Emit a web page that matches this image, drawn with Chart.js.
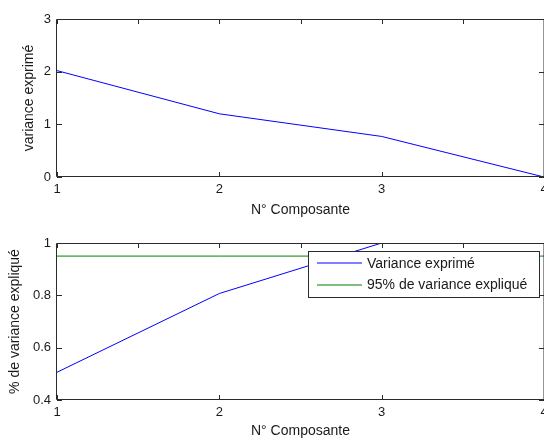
<!DOCTYPE html>
<html>
<head>
<meta charset="utf-8">
<script src="https://cdn.jsdelivr.net/npm/chart.js@4"></script>
<style>
  body { margin: 0; background: #fff; }
  #wrap { position: relative; width: 544px; height: 440px; overflow: hidden; }
  canvas { position: absolute; left: 0; }
</style>
</head>
<body>
<div id="wrap">
  <canvas id="top" width="544" height="220" style="top:0"></canvas>
  <canvas id="bottom" width="544" height="220" style="top:220px"></canvas>
</div>
<script>
// N° composante
const components = [1, 2, 3, 4];
// variance exprimée par composante
const varianceValues = [2.02, 1.20, 0.77, 0.0];
// % de variance expliquée (cumul)
const explainedValues = [0.506, 0.807, 1.0, 1.0];
// seuil 95%
const thresholdValues = [0.95, 0.95, 0.95, 0.95];

const blue = "#0000ff";
const green = "#008000";
const axisColor = "#2b2b2b";
const textColor = "#1a1a1a";
const fontFamily = "'Liberation Sans', Arial, sans-serif";

function points(values) {
    return components.map((c, i) => ({x: c, y: values[i]}));
}

// box + inward ticks, matlab style
const frame = {
    id: "frame",
    afterDraw(chart) {
        const {ctx, chartArea: a, scales: {x, y}} = chart;
        const L = 5;
        ctx.save();
        ctx.strokeStyle = axisColor;
        ctx.lineWidth = 1;
        ctx.beginPath();
        ctx.rect(a.left - 0.5, a.top + 0.5, a.right - a.left + 0.5, a.bottom - a.top - 1);
        x.ticks.forEach(t => {
            const px = Math.round(x.getPixelForValue(t.value)) + 0.5;
            ctx.moveTo(px, a.bottom);
            ctx.lineTo(px, a.bottom - L);
        });
        for (let v = x.min; v <= x.max; v += 0.5) {
            const px = Math.round(x.getPixelForValue(v)) + 0.5;
            ctx.moveTo(px, a.top);
            ctx.lineTo(px, a.top + L);
        }
        y.ticks.forEach(t => {
            const py = Math.round(y.getPixelForValue(t.value)) + 0.5;
            ctx.moveTo(a.left, py);
            ctx.lineTo(a.left + L, py);
            ctx.moveTo(a.right, py);
            ctx.lineTo(a.right - L, py);
        });
        ctx.stroke();
        ctx.restore();
    }
};

const boxLegend = {
    id: "boxLegend",
    afterDraw(chart) {
        const ctx = chart.ctx;
        const left = 308, top = 31, right = 539, bottom = 77;
        ctx.save();
        ctx.fillStyle = "#fff";
        ctx.fillRect(left, top, right - left, bottom - top);
        ctx.strokeStyle = axisColor;
        ctx.lineWidth = 1;
        ctx.strokeRect(left + 0.5, top + 0.5, right - left, bottom - top);
        ctx.font = "14px " + fontFamily;
        ctx.textBaseline = "middle";
        chart.data.datasets.forEach((ds, i) => {
            const yy = 43 + i * 21.5;
            ctx.strokeStyle = ds.borderColor;
            ctx.lineWidth = 1.2;
            ctx.beginPath();
            ctx.moveTo(317, Math.round(yy));
            ctx.lineTo(362, Math.round(yy));
            ctx.stroke();
            ctx.fillStyle = textColor;
            ctx.fillText(ds.label, 367, yy + 1);
        });
        ctx.restore();
    }
};

function makeChart(id, datasets, yMin, yMax, yStep, yTitle, opts) {
    return new Chart(id, {
        type: "line",
        data: {datasets: datasets},
        options: {
            responsive: false,
            animation: false,
            layout: {padding: {top: opts.top, left: 0, right: 0, bottom: 0}},
            plugins: {legend: {display: false}, tooltip: {enabled: false}},
            elements: {point: {radius: 0}, line: {borderWidth: 1, tension: 0}},
            scales: {
                x: {
                    type: "linear",
                    min: 1, max: 4,
                    grid: {display: false, drawTicks: false},
                    border: {display: false},
                    ticks: {stepSize: 1, padding: 5, color: textColor, font: {family: fontFamily, size: 13}},
                    title: {display: true, text: "N° Composante", color: textColor,
                            font: {family: fontFamily, size: 14, lineHeight: 1.2},
                            padding: {top: 0, bottom: opts.xTitlePad}},
                    afterFit(s) { s.height = opts.xHeight; s.paddingLeft = 0; s.paddingRight = 0; }
                },
                y: {
                    min: yMin, max: yMax,
                    grid: {display: false, drawTicks: false},
                    border: {display: false},
                    ticks: {stepSize: yStep, padding: 6, color: textColor, font: {family: fontFamily, size: 13},
                            callback: v => String(+v.toFixed(1))},
                    title: {display: true, text: yTitle, color: textColor,
                            font: {family: fontFamily, size: 14, lineHeight: 1.2},
                            padding: {top: opts.yTitlePad, bottom: 0}},
                    afterFit(s) { s.width = 57; }
                }
            }
        },
        plugins: opts.plugins
    });
}

makeChart("top", [
    {label: "variance exprimé", data: points(varianceValues), borderColor: blue}
], 0, 3, 1, "variance exprimé",
    {top: 19, xHeight: 43, xTitlePad: 1, yTitlePad: 20.6, plugins: [frame]});

makeChart("bottom", [
    {label: "Variance exprimé", data: points(explainedValues), borderColor: blue},
    {label: "95% de variance expliqué", data: points(thresholdValues), borderColor: green}
], 0.4, 1, 0.2, "% de variance expliqué",
    {top: 23, xHeight: 40, xTitlePad: 0, yTitlePad: 6.6, plugins: [frame, boxLegend]});
</script>
</body>
</html>
